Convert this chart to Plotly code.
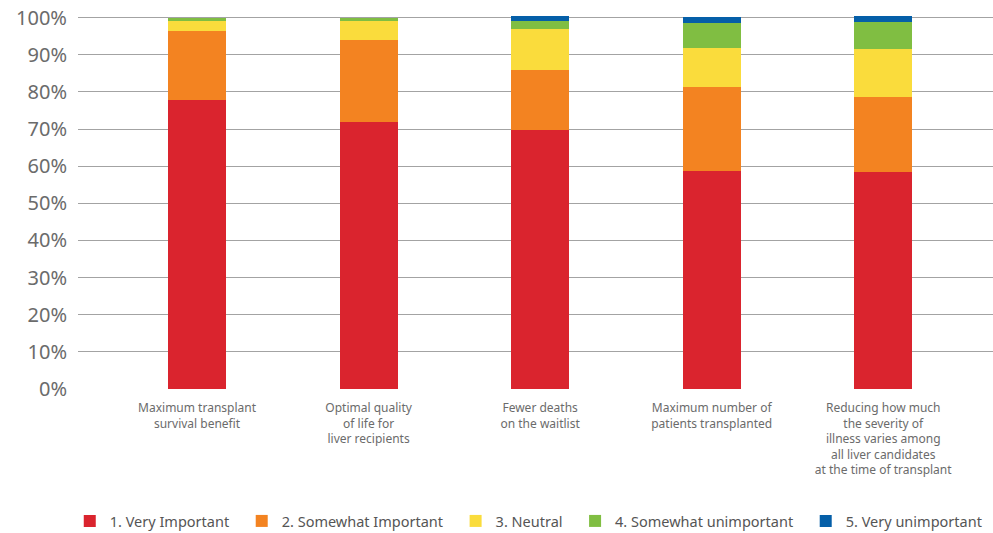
import plotly.graph_objects as go

categories = [
    "Maximum transplant<br>survival benefit",
    "Optimal quality<br>of life for<br>liver recipients",
    "Fewer deaths<br>on the waitlist",
    "Maximum number of<br>patients transplanted",
    "Reducing how much<br>the severity of<br>illness varies among<br>all liver candidates<br>at the time of transplant",
]
series_names = ["1. Very Important", "2. Somewhat Important", "3. Neutral",
                "4. Somewhat unimportant", "5. Very unimportant"]
very_important = [77.9, 72.0, 69.8, 58.8, 58.5]
somewhat_important = [18.6, 22.1, 16.2, 22.6, 20.2]
neutral = [2.7, 5.1, 11.0, 10.5, 12.9]
somewhat_unimportant = [0.8, 0.8, 2.2, 6.8, 7.3]
very_unimportant = [0.0, 0.0, 1.3, 1.6, 1.6]
colors = ["#DA242E", "#F38321", "#FADC3C", "#80BE42", "#055FA8"]
y_ticks = [0, 10, 20, 30, 40, 50, 60, 70, 80, 90, 100]
y_tick_labels = [f"{v}%" for v in y_ticks]

series = [very_important, somewhat_important, neutral, somewhat_unimportant, very_unimportant]

fig = go.Figure()
n = len(series_names)
for i, (name, vals, col) in enumerate(zip(series_names, series, colors)):
    label = name + ("\u00a0\u00a0" if i < n - 1 else "")
    fig.add_trace(go.Bar(x=categories, y=vals, name=label,
                         marker_color=col, marker_line_width=0))

font_family = "Noto Sans, Open Sans, sans-serif"
fig.update_layout(
    barmode="stack",
    width=993, height=533,
    margin=dict(l=78, r=0, t=14, b=144, autoexpand=False),
    plot_bgcolor="white", paper_bgcolor="white",
    bargap=0.662,
    font=dict(family=font_family, color="#666666"),
    showlegend=True,
    legend=dict(orientation="h", xref="paper", yref="paper",
                x=-0.009, y=-0.352, xanchor="left", yanchor="middle",
                font=dict(size=14.5, color="#555555"), traceorder="normal",
                itemclick=False),
    xaxis=dict(range=[-0.694, 4.64], showgrid=False, showline=False,
               tickfont=dict(size=12, color="#6b6b6b"), ticks="",
               ticklabelstandoff=10),
    yaxis=dict(range=[0, 101], tickvals=y_ticks, ticktext=y_tick_labels,
               showgrid=True, gridcolor="#a3a3a3", gridwidth=1,
               zeroline=False, showline=False,
               tickfont=dict(size=20, color="#6b6b6b"), ticklabelstandoff=10),
)

fig.write_html("out.html")
